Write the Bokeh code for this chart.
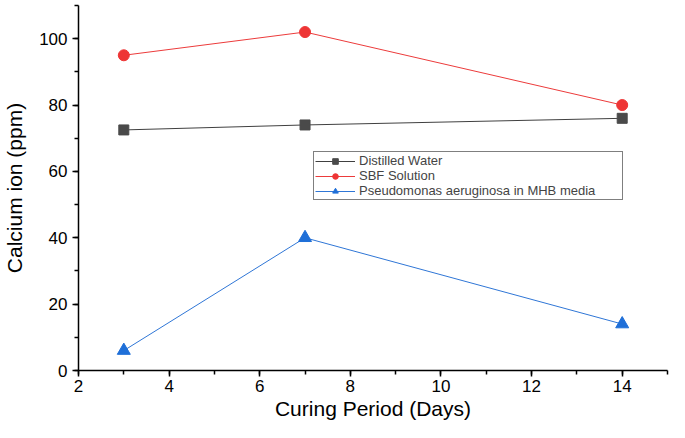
from bokeh.plotting import figure
from bokeh.models import SingleIntervalTicker, Range1d, Legend
from bokeh.embed import file_html
from bokeh.resources import INLINE

days = [3, 7, 14]
distilled = [72.5, 74, 76]
sbf = [95, 102, 80]
pseudo = [6, 40, 14]

x_ticks_interval = 2
y_ticks_interval = 20

p = figure(width=669, height=422, output_backend="svg", toolbar_location=None,
           x_range=Range1d(2, 15), y_range=Range1d(0, 110),
           min_border_left=72, min_border_right=2, min_border_top=5, min_border_bottom=50)
p.outline_line_color = None
p.xgrid.visible = False
p.ygrid.visible = False
p.background_fill_color = "white"

r1l = p.line(days, distilled, line_color="#404040", line_width=1)
r1s = p.scatter(days, distilled, marker="square", size=10, fill_color="#4a4a4a", line_color="#4a4a4a")
r2l = p.line(days, sbf, line_color="#ec3b3b", line_width=1)
r2s = p.scatter(days, sbf, marker="circle", size=11, fill_color="#ee3535", line_color="#ee3535")
r3l = p.line(days, pseudo, line_color="#2f76d6", line_width=1)
r3s = p.scatter(days, pseudo, marker="triangle", size=13, fill_color="#1f6fd8", line_color="#1f6fd8")

legend = Legend(items=[("Distilled Water", [r1l, r1s]),
                       ("SBF Solution", [r2l, r2s]),
                       ("Pseudomonas aeruginosa in MHB media", [r3l, r3s])],
                location=(235, 170))
legend.border_line_color = "black"
legend.border_line_width = 1
legend.label_text_font = "Liberation Sans"
legend.label_text_font_size = "13px"
legend.label_height = 14
legend.glyph_height = 14
legend.glyph_width = 40
legend.label_width = 262
legend.spacing = 0
legend.padding = 1
legend.margin = 0
legend.label_standoff = 4
legend.background_fill_alpha = 1
p.add_layout(legend, "center")

for ax, interval in ((p.xaxis[0], x_ticks_interval), (p.yaxis[0], y_ticks_interval)):
    ax.ticker = SingleIntervalTicker(interval=interval, num_minor_ticks=2)
    ax.major_tick_in = 0
    ax.major_tick_out = 6
    ax.minor_tick_in = 0
    ax.minor_tick_out = 4
    ax.axis_line_color = "black"
    ax.axis_line_width = 1.5
    ax.major_tick_line_width = 1.5
    ax.minor_tick_line_width = 1.5
    ax.major_label_text_font = "Liberation Sans"
    ax.major_label_text_font_size = "17px"
    ax.major_label_text_color = "black"
    ax.axis_label_text_font = "Liberation Sans"
    ax.axis_label_text_font_size = "21px"
    ax.axis_label_text_font_style = "normal"
    ax.axis_label_text_color = "black"

p.xaxis.axis_label = "Curing Period (Days)"
p.yaxis.axis_label = "Calcium ion (ppm)"
p.xaxis.axis_label_standoff = 2
p.yaxis.axis_label_standoff = 10
p.xaxis.major_label_standoff = 3

open("out.html", "w").write(file_html(p, INLINE))
